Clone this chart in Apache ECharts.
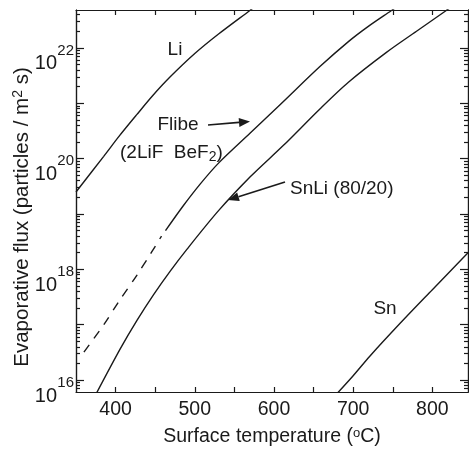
<!DOCTYPE html>
<html><head><meta charset="utf-8">
<script src="https://cdn.jsdelivr.net/npm/echarts@6/dist/echarts.min.js"></script>
<style>html,body{margin:0;padding:0;background:#fff}#c{width:469px;height:452px}</style>
</head><body><div id="c"></div>
<script>
// Surface temperature (°C) and evaporative flux (particles / m^2 s)
const liT = [350, 385, 405, 427, 447, 469, 500, 530, 570, 576];
const liFlux = [2.5e19, 1.1e20, 2.6e20, 6.3e20, 1.38e21, 3.0e21, 7.9e21, 1.78e22, 4.8e22, 5.6e22];

const flibeDashT = [360, 385, 405, 427, 445, 458];
const flibeDashFlux = [3.2e16, 1.0e17, 2.75e17, 7.9e17, 2.0e18, 4.0e18];

const flibeT = [463, 485, 507, 530, 570, 608, 658, 694, 720, 748, 754];
const flibeFlux = [5.0e18, 1.38e19, 3.5e19, 8.3e19, 2.9e20, 9.5e20, 4.6e21, 1.3e22, 2.5e22, 4.7e22, 5.4e22];

const snliT = [375, 406, 427, 448, 469, 490, 530, 570, 612, 658, 694, 742, 780, 818, 824];
const snliFlux = [5.5e15, 3.7e16, 1.2e17, 3.5e17, 9.3e17, 2.3e18, 1.15e19, 4.7e19, 1.74e20, 7.9e20, 2.4e21, 8.3e21, 2.0e22, 4.8e22, 5.5e22];

const snT = [678, 700, 721, 759, 800, 845];
const snFlux = [5.4e15, 1.2e16, 2.7e16, 1.05e17, 4.3e17, 2.0e18];

const xTickLabels = [400, 500, 600, 700, 800];
const xTicks = [400, 450, 500, 550, 600, 650, 700, 750, 800];
const yDecades = [1e16, 1e18, 1e20, 1e22];

const X_MIN = 350, X_MAX = 845, Y_MIN = 6.1e15, Y_MAX = 4.84e22;
const FONT = "'Liberation Sans', Arial, Helvetica, sans-serif";
const INK = '#1a1a1a';

const pairs = (xs, ys) => xs.map((x, i) => [x, ys[i]]);

// decade ticks and minor (2..9 x 10^n) ticks within the axis range
const yAllDecades = [];
const yMinor = [];
for (let n = 15; n <= 22; n++) {
  const d = Math.pow(10, n);
  if (d >= Y_MIN && d <= Y_MAX) yAllDecades.push(d);
  for (let k = 2; k <= 9; k++) {
    const v = k * d;
    if (v >= Y_MIN && v <= Y_MAX) yMinor.push(v);
  }
}

const lineStyleBase = { color: INK, width: 1.4 };
const axisLineStyle = { color: INK, width: 1.2 };

function yAxisBase(pos) {
  return {
    type: 'log', logBase: 10, min: Y_MIN, max: Y_MAX, position: pos,
    splitLine: { show: false }, minorTick: { show: false },
    axisLine: { show: true, onZero: false, lineStyle: axisLineStyle }
  };
}

function arrow(x1, y1, x2, y2) {
  const ang = Math.atan2(y2 - y1, x2 - x1);
  const L = 11, W = 4.5;
  const bx = x2 - L * Math.cos(ang), by = y2 - L * Math.sin(ang);
  const px = -Math.sin(ang) * W, py = Math.cos(ang) * W;
  return [
    { type: 'line', shape: { x1: x1, y1: y1, x2: bx, y2: by }, style: { stroke: INK, lineWidth: 1.6 } },
    { type: 'polygon', shape: { points: [[x2, y2], [bx + px, by + py], [bx - px, by - py]] }, style: { fill: INK } }
  ];
}

const textStyle = (extra) => Object.assign({ fill: INK, fontFamily: FONT, fontSize: 19 }, extra);
const seriesCommon = { type: 'line', showSymbol: false, smooth: 0.3, clip: true };

const chart = echarts.init(document.getElementById('c'), null, { renderer: 'canvas' });
chart.setOption({
  animation: false,
  backgroundColor: '#fff',
  grid: { left: 76, right: 1, top: 10, bottom: 59, containLabel: false },
  xAxis: [
    {
      type: 'value', min: X_MIN, max: X_MAX, position: 'bottom',
      splitLine: { show: false },
      axisLine: { show: true, onZero: false, lineStyle: axisLineStyle },
      axisTick: { show: true, inside: true, length: 5, lineStyle: axisLineStyle, customValues: xTicks },
      axisLabel: { customValues: xTickLabels, margin: 8, fontSize: 19.5, color: INK, fontFamily: FONT },
      name: '{t|Surface temperature (}{s|o}{t|C)}',
      nameLocation: 'middle', nameGap: 35,
      nameTextStyle: {
        color: INK, fontFamily: FONT,
        rich: {
          t: { fontSize: 19.5, fontFamily: FONT, color: INK },
          s: { fontSize: 13, fontFamily: FONT, color: INK, verticalAlign: 'top' }
        }
      }
    },
    {
      type: 'value', min: X_MIN, max: X_MAX, position: 'top',
      splitLine: { show: false },
      axisLine: { show: true, onZero: false, lineStyle: axisLineStyle },
      axisTick: { show: true, inside: true, length: 5, lineStyle: axisLineStyle, customValues: xTicks },
      axisLabel: { show: false }
    }
  ],
  yAxis: [
    Object.assign(yAxisBase('left'), {
      axisTick: { show: true, inside: true, length: 8, lineStyle: axisLineStyle, customValues: yAllDecades },
      axisLabel: {
        customValues: yDecades, formatter: () => '10', margin: 19,
        fontSize: 20, color: INK, fontFamily: FONT,
        verticalAlign: 'top', lineHeight: 20, padding: [6, 0, 0, 0]
      }
    }),
    Object.assign(yAxisBase('left'), {
      axisLine: { show: false },
      axisTick: { show: false },
      axisLabel: {
        customValues: yDecades, formatter: (v) => String(Math.round(Math.log10(v))),
        margin: 2, fontSize: 15, color: INK, fontFamily: FONT,
        verticalAlign: 'top', lineHeight: 15, padding: [-5, 0, 0, 0]
      }
    }),
    Object.assign(yAxisBase('left'), {
      axisTick: { show: true, inside: true, length: 4, lineStyle: axisLineStyle, customValues: yMinor },
      axisLabel: { show: false }
    }),
    Object.assign(yAxisBase('right'), {
      axisTick: { show: true, inside: true, length: 8, lineStyle: axisLineStyle, customValues: yAllDecades },
      axisLabel: { show: false }
    }),
    Object.assign(yAxisBase('right'), {
      axisTick: { show: true, inside: true, length: 4, lineStyle: axisLineStyle, customValues: yMinor },
      axisLabel: { show: false }
    })
  ],
  series: [
    Object.assign({ name: 'Li', data: pairs(liT, liFlux), lineStyle: lineStyleBase }, seriesCommon),
    Object.assign({ name: 'Flibe (dashed)', data: pairs(flibeDashT, flibeDashFlux), lineStyle: Object.assign({}, lineStyleBase, { type: [9, 8] }) }, seriesCommon),
    Object.assign({ name: 'Flibe', data: pairs(flibeT, flibeFlux), lineStyle: lineStyleBase }, seriesCommon),
    Object.assign({ name: 'SnLi (80/20)', data: pairs(snliT, snliFlux), lineStyle: lineStyleBase }, seriesCommon),
    Object.assign({ name: 'Sn', data: pairs(snT, snFlux), lineStyle: lineStyleBase }, seriesCommon)
  ],
  graphic: [
    {
      type: 'text', x: 22, y: 217, rotation: Math.PI / 2,
      style: {
        text: '{t|Evaporative flux (particles / m}{s|2}{t| s)}',
        align: 'center', verticalAlign: 'middle', fill: INK,
        rich: {
          t: { fontSize: 20.5, fontFamily: FONT, fill: INK },
          s: { fontSize: 14, fontFamily: FONT, fill: INK, verticalAlign: 'top' }
        }
      }
    },
    { type: 'text', x: 175, y: 50, style: textStyle({ text: 'Li', align: 'center', verticalAlign: 'middle' }) },
    { type: 'text', x: 178, y: 125, style: textStyle({ text: 'Flibe', align: 'center', verticalAlign: 'middle' }) },
    {
      type: 'text', x: 120, y: 153,
      style: {
        text: '{t|(2LiF  BeF}{b|2}{t|)}', align: 'left', verticalAlign: 'middle', fill: INK,
        rich: {
          t: { fontSize: 19, fontFamily: FONT, fill: INK },
          b: { fontSize: 14, fontFamily: FONT, fill: INK, verticalAlign: 'bottom', padding: [9, 0, 0, 0] }
        }
      }
    },
    { type: 'text', x: 290, y: 189, style: textStyle({ text: 'SnLi (80/20)', align: 'left', verticalAlign: 'middle' }) },
    { type: 'text', x: 385, y: 309, style: textStyle({ text: 'Sn', align: 'center', verticalAlign: 'middle' }) }
  ].concat(arrow(208, 125, 250, 121.5), arrow(285, 182, 228, 200))
});
</script>
</body></html>
